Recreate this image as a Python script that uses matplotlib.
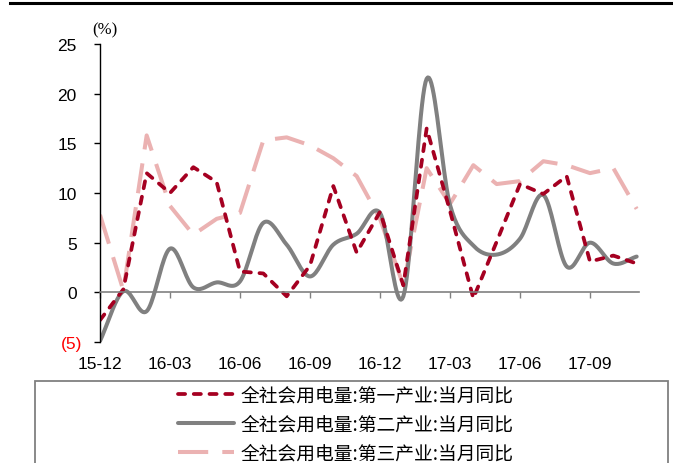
import numpy as np
import matplotlib
matplotlib.use('Agg')
import matplotlib.pyplot as plt
from matplotlib.patches import Rectangle
from matplotlib.lines import Line2D
from matplotlib.transforms import ScaledTranslation

plt.rcParams['font.family'] = ['Liberation Sans', 'DejaVu Sans']

# monthly data, 15-12 .. 17-11
months = ['15-12', '16-01', '16-02', '16-03', '16-04', '16-05', '16-06', '16-07',
          '16-08', '16-09', '16-10', '16-11', '16-12', '17-01', '17-02', '17-03',
          '17-04', '17-05', '17-06', '17-07', '17-08', '17-09', '17-10', '17-11']
primary = [-2.8, 0.3, 12.0, 10.0, 12.6, 11.1, 2.1, 1.9, -0.4, 2.7, 10.7, 4.0,
           8.1, 0.7, 16.5, 8.2, -0.6, 5.1, 10.9, 9.9, 11.7, 3.1, 3.7, 2.9]
secondary = [-4.9, 0.1, -1.9, 4.4, 0.5, 1.0, 1.1, 7.0, 4.8, 1.6, 4.8, 5.9,
             8.0, -0.4, 21.5, 8.8, 4.7, 3.8, 5.4, 9.8, 2.6, 5.0, 2.9, 3.6]
tertiary = [7.8, 0.2, 15.8, 8.7, 5.8, 7.4, 8.0, 15.3, 15.6, 14.8, 13.5, 11.7,
            7.4, 0.7, 12.5, 8.9, 12.8, 10.9, 11.2, 13.2, 12.8, 12.0, 12.5, 8.4]
tick_labels = ['15-12', '16-03', '16-06', '16-09', '16-12', '17-03', '17-06', '17-09']
y_ticks = [-5, 0, 5, 10, 15, 20, 25]
y_labels = ['(5)', '0', '5', '10', '15', '20', '25']
series_names = ['全社会用电量:第一产业:当月同比',
                '全社会用电量:第二产业:当月同比',
                '全社会用电量:第三产业:当月同比']


def catmull_rom(x, y, n=20):
    # smoothed line like Excel's "smoothed line" option
    x = np.asarray(x, float)
    y = np.asarray(y, float)
    px = np.concatenate([[2 * x[0] - x[1]], x, [2 * x[-1] - x[-2]]])
    py = np.concatenate([[2 * y[0] - y[1]], y, [2 * y[-1] - y[-2]]])
    t = np.linspace(0, 1, n, endpoint=False)
    xs, ys = [], []
    for i in range(len(x) - 1):
        for p, out in ((px, xs), (py, ys)):
            p0, p1, p2, p3 = p[i], p[i + 1], p[i + 2], p[i + 3]
            out.append(0.5 * (2 * p1 + (-p0 + p2) * t
                              + (2 * p0 - 5 * p1 + 4 * p2 - p3) * t ** 2
                              + (-p0 + 3 * p1 - 3 * p2 + p3) * t ** 3))
    xs.append([x[-1]])
    ys.append([y[-1]])
    return np.concatenate(xs), np.concatenate(ys)


red = '#A50021'
grey = '#808080'
pink = '#EBB2B2'

fig = plt.figure(figsize=(6.73, 4.64), dpi=100)
ax = fig.add_axes([100 / 673, 1 - 343 / 464, 539 / 673, 298 / 464])

x = np.arange(len(months))
l3, = ax.plot(x, tertiary, color=pink, lw=2.9, dashes=(7.5, 3.5), solid_capstyle='butt')
gx, gy = catmull_rom(x, secondary)
l2, = ax.plot(gx, gy, color=grey, lw=2.9, solid_capstyle='round')
l1, = ax.plot(x, primary, color=red, lw=2.7, dashes=(1.9, 2.3), dash_capstyle='round')

ax.set_xlim(0, 23.1)
ax.set_ylim(-5, 25)

for s in ['top', 'right']:
    ax.spines[s].set_visible(False)
ax.spines['left'].set_color('black')
ax.spines['left'].set_linewidth(1)
ax.spines['bottom'].set_position(('data', 0))
ax.spines['bottom'].set_color(grey)
ax.spines['bottom'].set_linewidth(1.2)

ax.set_xticks(x[::3])
ax.set_xticklabels(tick_labels, fontsize=12.5)
ax.tick_params(axis='x', direction='out', length=4, width=1, color=grey, pad=42)

ax.set_yticks(y_ticks)
ax.set_yticklabels(y_labels, fontsize=12.5)
ax.tick_params(axis='y', direction='out', length=4.5, width=1, color='black', pad=8)
shift = ScaledTranslation(-6 / 100, 0, fig.dpi_scale_trans)
for lab in ax.get_yticklabels():
    if lab.get_text() == '(5)':
        lab.set_color('red')
    else:
        lab.set_transform(lab.get_transform() + shift)

fig.text(105 / 673, 1 - 30 / 464, '(%)', family='Liberation Serif', fontsize=12,
         ha='center', va='center')

# top rule
fig.add_artist(Line2D([10 / 673, 1], [1 - 3.5 / 464, 1 - 3.5 / 464], color='black', lw=2.2,
                      transform=fig.transFigure))

# legend box
fig.add_artist(Rectangle((35 / 673, -0.05), 633 / 673, 0.05 + 1 - 382 / 464,
                         transform=fig.transFigure, fill=False, ec=grey, lw=1.3))
fig.legend([l1, l2, l3], series_names, loc='upper left',
           bbox_to_anchor=(178 / 673, 1 - 386 / 464), frameon=False,
           borderpad=0, borderaxespad=0, handlelength=3.0, handletextpad=0.32,
           labelspacing=0.42, prop={'family': ['Noto Sans CJK SC', 'DejaVu Sans'], 'size': 13.5})

fig.savefig('out.png', dpi=100)
